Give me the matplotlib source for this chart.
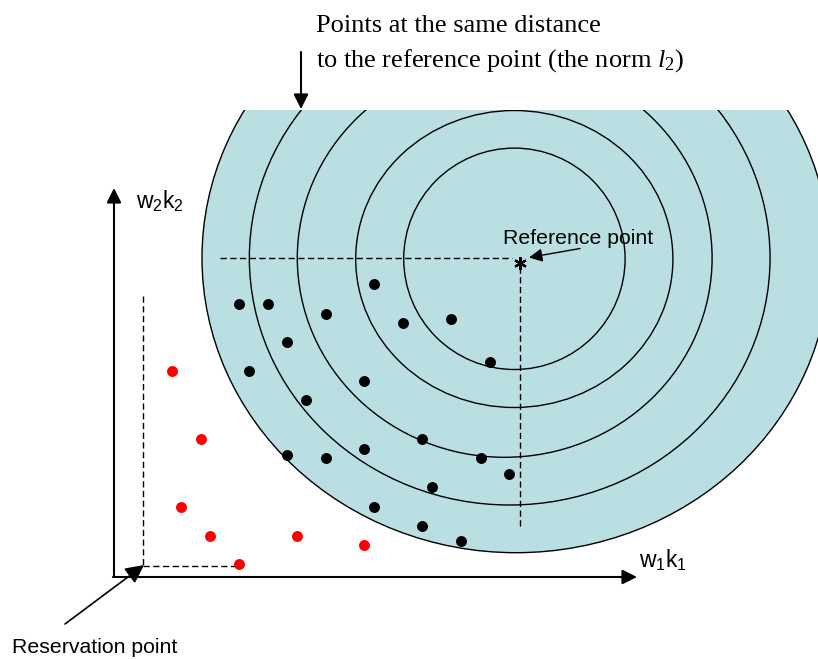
import numpy as np
import matplotlib.pyplot as plt
from matplotlib.patches import Ellipse, Rectangle

# curves of equal distance (centre x, centre y, width, height), pixel units
curve_cx = [514.4, 514.3, 504.7, 509.7, 516.0]
curve_cy = [258.8, 259.0, 258.0, 258.0, 258.0]
curve_w = [221.4, 317.2, 414.8, 520.7, 628.0]
curve_h = [221.4, 297.0, 398.6, 494.0, 589.4]

# efficient (black) and dominated (red) points
black_x = [239, 268, 326, 374, 403, 451, 490, 287, 249, 364, 306,
           422, 364, 287, 326, 481, 509, 432, 374, 422, 461]
black_y = [304, 304, 314, 284, 323, 319, 362, 342, 371, 381, 400,
           439, 449, 455, 458, 458, 474, 487, 507, 526, 541]
red_x = [172, 201, 181, 210, 239, 297, 364]
red_y = [371, 439, 507, 536, 564, 536, 545]

ref_point = (519.5, 258)
res_point = (143, 566)

plt.rcParams['mathtext.fontset'] = 'custom'
plt.rcParams['mathtext.rm'] = 'Liberation Serif'
plt.rcParams['mathtext.it'] = 'Liberation Serif:italic'
plt.rcParams['mathtext.sf'] = 'Liberation Sans'

fig = plt.figure(figsize=(8.18, 6.59), dpi=100)
ax = fig.add_axes([0, 0, 1, 1])
ax.set_xlim(0, 818)
ax.set_ylim(659, 0)
ax.axis('off')

clip = Rectangle((0, 110), 818, 549, transform=ax.transData)

# shaded area = outer curve
band = Ellipse((curve_cx[-1], curve_cy[-1]), curve_w[-1], curve_h[-1],
               facecolor='#badfe2', edgecolor='black', lw=1.0, zorder=1)
ax.add_patch(band)
band.set_clip_path(clip)
for cx, cy, w, h in zip(curve_cx[:-1], curve_cy[:-1], curve_w[:-1], curve_h[:-1]):
    e = Ellipse((cx, cy), w, h, fill=False, edgecolor='black', lw=1.0, zorder=2)
    ax.add_patch(e)
    e.set_clip_path(clip)

dash = dict(color='black', lw=1.0, dashes=(4.5, 2.5), zorder=3)
# reference point guides
ax.plot([220, 512], [ref_point[1], ref_point[1]], **dash)
ax.plot([ref_point[0], ref_point[0]], [267, 528], **dash)
# reservation point guides
ax.plot([res_point[0], res_point[0]], [296, res_point[1]], **dash)
ax.plot([res_point[0], 240], [res_point[1], res_point[1]], **dash)

# axes with arrows
arr = dict(arrowstyle='-|>', color='black', lw=1.5, mutation_scale=22,
           shrinkA=0, shrinkB=0)
ax.annotate('', xy=(114, 188), xytext=(114, 577), arrowprops=arr, zorder=4)
ax.annotate('', xy=(637, 577), xytext=(113, 577), arrowprops=arr, zorder=4)

ax.scatter(black_x, black_y, s=62, color='black', zorder=5, linewidths=0)
ax.scatter(red_x, red_y, s=62, color='#ff0000', zorder=5, linewidths=0)

# reference point marker
ax.plot([ref_point[0]], [263], marker=(6, 2, 0), markersize=9, mew=1.6,
        color='black', zorder=6)

sans = dict(family='Liberation Sans', fontsize=15.3)
ax.text(503, 244, 'Reference point', ha='left', va='baseline', zorder=6, **sans)
ax.annotate('', xy=(529, 257.5), xytext=(580, 248.5),
            arrowprops=dict(arrowstyle='-|>', color='black', lw=1.0,
                            mutation_scale=20, shrinkA=0, shrinkB=0), zorder=6)

ax.text(11.7, 652.7, 'Reservation point', ha='left', va='baseline', **sans)
ax.annotate('', xy=(144, 565), xytext=(65, 624),
            arrowprops=dict(arrowstyle='-|>', color='black', lw=1.2,
                            mutation_scale=28, shrinkA=0, shrinkB=0), zorder=7)

ax.text(136.5, 209, r'$\mathsf{w}_\mathsf{2}\mathsf{k}_\mathsf{2}$', ha='left',
        va='baseline', fontsize=16.5)
ax.text(639, 568, r'$\mathsf{w}_\mathsf{1}\mathsf{k}_\mathsf{1}$', ha='left',
        va='baseline', fontsize=16.5)

serif = dict(family='Liberation Serif', fontsize=19)
ax.text(316.5, 31.7, 'Points at the same distance', ha='left', va='baseline', **serif)
ax.text(316.5, 66.7, r'to the reference point (the norm $l_\mathrm{2}$)', ha='left',
        va='baseline', **serif)
ax.annotate('', xy=(301, 109), xytext=(301, 52),
            arrowprops=dict(arrowstyle='-|>', color='black', lw=1.5,
                            mutation_scale=22, shrinkA=0, shrinkB=0))

fig.savefig('out.png', dpi=100)
